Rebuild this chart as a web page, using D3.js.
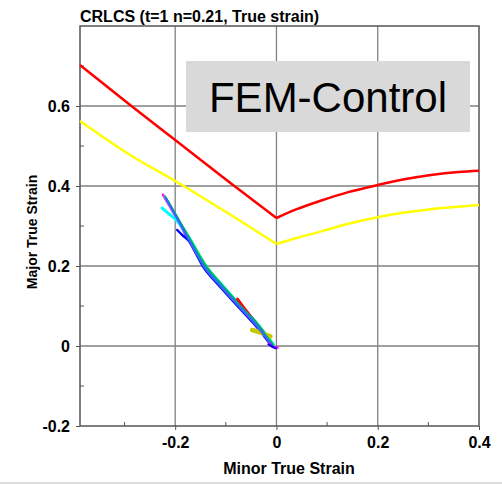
<!DOCTYPE html>
<html>
<head>
<meta charset="utf-8">
<script src="https://cdn.jsdelivr.net/npm/d3@7"></script>
<style>
  body { margin: 0; background: #fff; }
  text { font-family: Arial, "Liberation Sans", sans-serif; }
</style>
</head>
<body>
<div class="chart"></div>
<script>
// Chart data
var titleText = "CRLCS (t=1 n=0.21, True strain)";
var xTicks = [-0.2, 0, 0.2, 0.4];
var yTicks = [-0.2, 0, 0.2, 0.4, 0.6];
var xMinor = [-0.3, -0.1, 0.1, 0.3];
var yMinor = [-0.1, 0.1, 0.3, 0.5, 0.7];

// forming limit curve (red), left and right of plane strain
var flcMinorL = [-0.388, -0.289, -0.2, -0.091, 0];
var flcMajorL = [0.7025, 0.6025, 0.515, 0.4075, 0.32];
var flcMinorR = [0, 0.04, 0.087, 0.14, 0.2, 0.25, 0.305, 0.36, 0.4];
var flcMajorR = [0.32, 0.342, 0.363, 0.384, 0.4025, 0.416, 0.4275, 0.435, 0.438];
// safety margin curve (yellow)
var safeMinorL = [-0.388, -0.289, -0.2, -0.065, 0];
var safeMajorL = [0.5625, 0.4775, 0.4125, 0.3075, 0.255];
var safeMinorR = [0, 0.04, 0.087, 0.14, 0.2, 0.25, 0.305, 0.36, 0.4];
var safeMajorR = [0.255, 0.27, 0.286, 0.305, 0.322, 0.333, 0.342, 0.348, 0.3525];

// strain paths of the FEM elements
var pathColors = ["#ff00ff", "#9933ff", "#00ffff", "#0000ff", "#00ff00", "#ff0000",
                  "#c8c800", "#ff66cc", "#00a0a0", "#3366ff", "#ff00ff", "#0000ff"];
var pathWidths = [2.5, 2.5, 3, 2.5, 2, 3, 4.5, 2, 2, 2, 2.5, 2];
var pathMinor = [
  [-0.007, -0.041, -0.074, -0.106, -0.141, -0.175, -0.202, -0.224],
  [-0.009, -0.043, -0.076, -0.108, -0.142, -0.175, -0.2, -0.221],
  [-0.006, -0.04, -0.073, -0.105, -0.139, -0.172, -0.198, -0.212, -0.226],
  [-0.01, -0.044, -0.077, -0.109, -0.143, -0.172, -0.184, -0.196],
  [-0.006, -0.039, -0.072, -0.104, -0.138, -0.172, -0.199, -0.219],
  [-0.018, -0.038, -0.058, -0.077],
  [-0.012, -0.03, -0.048],
  [-0.008, -0.042, -0.075, -0.107, -0.141, -0.174, -0.201, -0.222],
  [-0.007, -0.04, -0.073, -0.105, -0.139, -0.173, -0.199, -0.22],
  [-0.009, -0.043, -0.076, -0.108, -0.142, -0.174, -0.199, -0.218],
  [0.002, -0.008, -0.014],
  [-0.001, -0.01, -0.016]
];
var pathMajor = [
  [0.0, 0.056, 0.101, 0.147, 0.198, 0.272, 0.332, 0.378],
  [0.002, 0.057, 0.102, 0.146, 0.196, 0.268, 0.326, 0.372],
  [0.004, 0.059, 0.104, 0.149, 0.199, 0.27, 0.315, 0.33, 0.345],
  [0.001, 0.055, 0.1, 0.145, 0.195, 0.262, 0.275, 0.29],
  [0.003, 0.058, 0.103, 0.148, 0.199, 0.271, 0.329, 0.372],
  [0.022, 0.052, 0.085, 0.117],
  [0.024, 0.033, 0.04],
  [0.0, 0.056, 0.101, 0.146, 0.197, 0.27, 0.328, 0.375],
  [0.002, 0.058, 0.103, 0.148, 0.198, 0.271, 0.329, 0.374],
  [0.001, 0.056, 0.101, 0.146, 0.196, 0.268, 0.325, 0.368],
  [-0.004, -0.002, 0.006],
  [-0.006, 0.0, 0.004]
];

var svgWidth = 502;
var svgHeight = 484;
var margin = { top: 26, right: 23, bottom: 58, left: 80 };
var chartWidth = svgWidth - margin.left - margin.right;
var chartHeight = svgHeight - margin.top - margin.bottom;

var svg = d3.select(".chart")
  .append("svg")
  .attr("width", svgWidth)
  .attr("height", svgHeight);

var x = d3.scaleLinear().domain([-0.388, 0.4]).range([0, chartWidth]);
var y = d3.scaleLinear().domain([-0.2, 0.8]).range([chartHeight, 0]);

var g = svg.append("g")
  .attr("transform", "translate(" + margin.left + "," + margin.top + ")");

// grid
g.append("g").selectAll("line")
  .data(xTicks.slice(0, 3))
  .enter().append("line")
  .attr("x1", d => x(d)).attr("x2", d => x(d))
  .attr("y1", 0).attr("y2", chartHeight)
  .attr("stroke", "#808080").attr("stroke-width", 1.3);

g.append("g").selectAll("line")
  .data(yTicks.slice(1))
  .enter().append("line")
  .attr("x1", 0).attr("x2", chartWidth)
  .attr("y1", d => y(d)).attr("y2", d => y(d))
  .attr("stroke", "#808080").attr("stroke-width", 1.3);

// minor ticks, pointing in
g.append("g").selectAll("line")
  .data(xMinor)
  .enter().append("line")
  .attr("x1", d => x(d)).attr("x2", d => x(d))
  .attr("y1", chartHeight).attr("y2", chartHeight - 4)
  .attr("stroke", "#555");
g.append("g").selectAll("line")
  .data(yMinor)
  .enter().append("line")
  .attr("x1", 0).attr("x2", 4)
  .attr("y1", d => y(d)).attr("y2", d => y(d))
  .attr("stroke", "#555");

// axes
var fmt = d => d === 0 ? "0" : d3.format(".1f")(d).replace("\u2212", "-");
var xAxis = d3.axisBottom(x).tickValues(xTicks).tickFormat(fmt)
  .tickSize(4).tickPadding(7);
var yAxis = d3.axisLeft(y).tickValues(yTicks).tickFormat(fmt)
  .tickSize(4).tickPadding(6);

var gx = g.append("g").attr("transform", "translate(0," + chartHeight + ")").call(xAxis);
var gy = g.append("g").call(yAxis);
[gx, gy].forEach(function(a) {
  a.select(".domain").remove();
  a.selectAll("line").attr("stroke", "#555");
  a.selectAll("text")
    .attr("fill", "#000")
    .style("font-size", "16px")
    .style("font-weight", "bold")
    .style("font-family", "Arial, 'Liberation Sans', sans-serif");
});

// frame
g.append("rect")
  .attr("width", chartWidth).attr("height", chartHeight)
  .attr("fill", "none").attr("stroke", "#555").attr("stroke-width", 1.5);

// limit curves
var curve = d3.line().x(d => x(d[0])).y(d => y(d[1])).curve(d3.curveMonotoneX);
var limits = [
  [safeMinorL, safeMajorL, "#ffff00"],
  [safeMinorR, safeMajorR, "#ffff00"],
  [flcMinorL, flcMajorL, "#ff0000"],
  [flcMinorR, flcMajorR, "#ff0000"]
];
g.append("g").selectAll("path")
  .data(limits)
  .enter().append("path")
  .attr("d", d => curve(d3.zip(d[0], d[1])))
  .attr("fill", "none")
  .attr("stroke", d => d[2])
  .attr("stroke-width", 2.5)
  .attr("stroke-linejoin", "round");

// strain paths
var pathLine = d3.line().x(d => x(d[0])).y(d => y(d[1])).curve(d3.curveCatmullRom);
g.append("g").selectAll("path")
  .data(pathMinor.map((m, i) => d3.zip(m, pathMajor[i])))
  .enter().append("path")
  .attr("d", d => pathLine(d))
  .attr("fill", "none")
  .attr("stroke", (d, i) => pathColors[i])
  .attr("stroke-width", (d, i) => pathWidths[i])
  .attr("stroke-linecap", "round");

// label box
svg.append("rect")
  .attr("x", 186).attr("y", 61).attr("width", 284).attr("height", 71)
  .attr("fill", "#d9d9d9");
svg.append("text")
  .attr("x", 328).attr("y", 112)
  .attr("text-anchor", "middle")
  .style("font-size", "42px")
  .text("FEM-Control");

// title and axis titles
svg.append("text")
  .attr("x", 80).attr("y", 22)
  .style("font-size", "16px").style("font-weight", "bold")
  .text(titleText);
svg.append("text")
  .attr("x", 289).attr("y", 474)
  .attr("text-anchor", "middle")
  .style("font-size", "16px").style("font-weight", "bold")
  .text("Minor True Strain");
svg.append("text")
  .attr("transform", "translate(37,232) rotate(-90)")
  .attr("text-anchor", "middle")
  .style("font-size", "14px").style("font-weight", "bold")
  .text("Major True Strain");

svg.append("rect")
  .attr("x", 0).attr("y", 482).attr("width", svgWidth).attr("height", 2)
  .attr("fill", "#dcdcdc");
</script>
</body>
</html>
